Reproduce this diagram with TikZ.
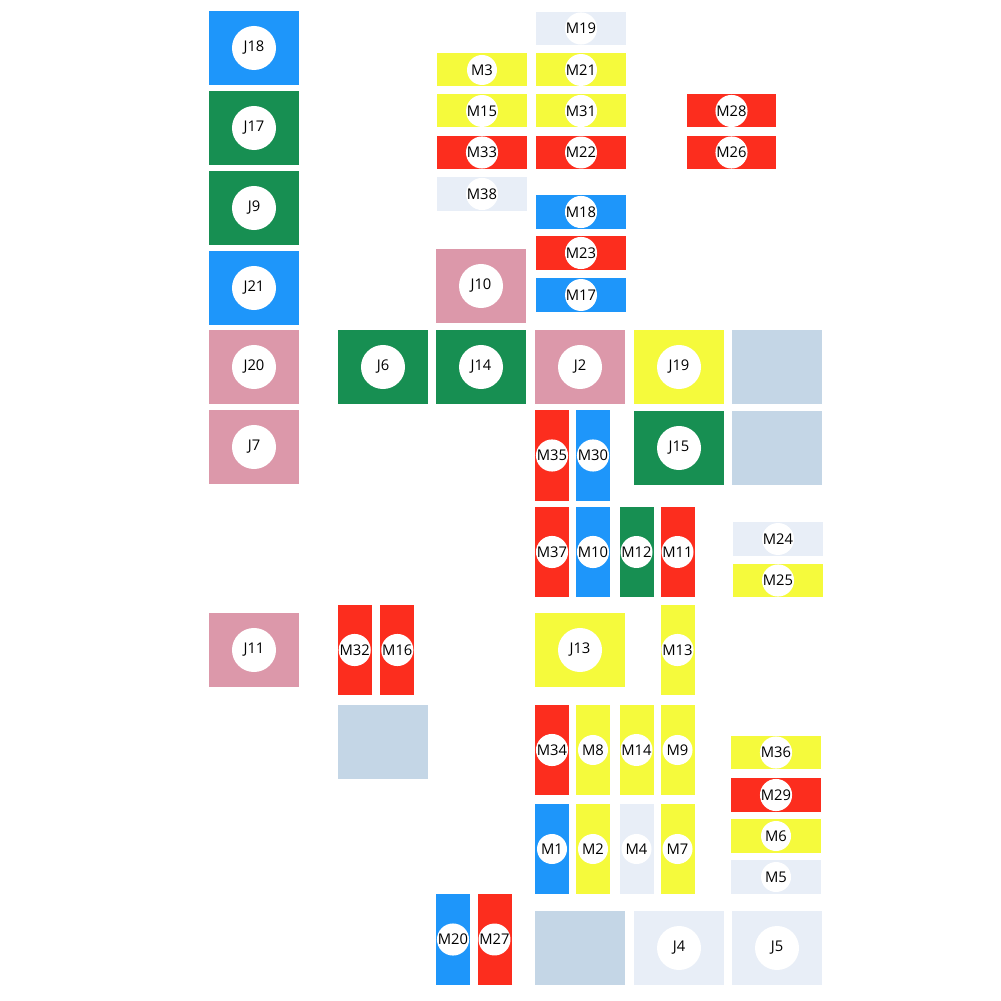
\documentclass[tikz,border=0pt]{standalone}
\usepackage{fontspec}
\setmainfont{Open Sans}

\definecolor{cblue}{RGB}{30,150,250}
\definecolor{cgreen}{RGB}{23,143,82}
\definecolor{cred}{RGB}{252,45,30}
\definecolor{cyellow}{RGB}{245,250,60}
\definecolor{cpink}{RGB}{220,152,170}
\definecolor{cgray}{RGB}{196,214,230}
\definecolor{clight}{RGB}{232,238,247}

\tikzset{
  jbox/.style={rectangle, draw=none, minimum width=0.9cm, minimum height=0.74cm, inner sep=0},
  mhbox/.style={rectangle, draw=none, minimum width=0.89cm, minimum height=0.33cm, inner sep=0},
  mvbox/.style={rectangle, draw=none, minimum width=0.34cm, minimum height=0.9cm, inner sep=0},
  jdot/.style={circle, fill=white, minimum size=0.44cm, inner sep=0, text=black,
    font=\fontsize{4.2}{5}\selectfont},
  mdot/.style={circle, fill=white, minimum size=0.30cm, inner sep=0, text=black,
    font=\fontsize{4.2}{5}\selectfont},
  jt/.style={label={[jdot]center:#1}},
  mt/.style={label={[mdot]center:#1}}
}

\begin{document}
\begin{tikzpicture}[x=0.01cm, y=-0.01cm]
  \useasboundingbox (0,0) rectangle (1001,1001);
  % left column
  \node[jbox, fill=cblue, jt=J18] (J18) at (254, 48) {};
  \node[jbox, fill=cgreen, jt=J17] (J17) at (254, 128) {};
  \node[jbox, fill=cgreen, jt=J9] (J9) at (254, 208) {};
  \node[jbox, fill=cblue, jt=J21] (J21) at (254, 288) {};
  \node[jbox, fill=cpink, jt=J20] (J20) at (254, 367) {};
  \node[jbox, fill=cpink, jt=J7] (J7) at (254, 447) {};
  \node[jbox, fill=cpink, jt=J11] (J11) at (254, 650) {};
  % big tiles
  \node[jbox, fill=cgreen, jt=J6] (J6) at (383, 367) {};
  \node[jbox, fill=cgreen, jt=J14] (J14) at (481, 367) {};
  \node[jbox, fill=cpink, jt=J10] (J10) at (481, 286) {};
  \node[jbox, fill=cpink, jt=J2] (J2) at (580, 367) {};
  \node[jbox, fill=cyellow, jt=J19] (J19) at (679, 367) {};
  \node[jbox, fill=cgray] (G1) at (777, 367) {};
  \node[jbox, fill=cgreen, jt=J15] (J15) at (679, 448) {};
  \node[jbox, fill=cgray] (G2) at (777, 448) {};
  \node[jbox, fill=cyellow, jt=J13] (J13) at (580, 650) {};
  \node[jbox, fill=cgray] (G3) at (383, 742) {};
  \node[jbox, fill=cgray] (G4) at (580, 948) {};
  \node[jbox, fill=clight, jt=J4] (J4) at (679, 948) {};
  \node[jbox, fill=clight, jt=J5] (J5) at (777, 948) {};
  % flat tiles
  \node[mhbox, fill=clight, mt=M19] (M19) at (581, 28.5) {};
  \node[mhbox, fill=cyellow, mt=M21] (M21) at (581, 70) {};
  \node[mhbox, fill=cyellow, mt=M31] (M31) at (581, 111) {};
  \node[mhbox, fill=cred, mt=M22] (M22) at (581, 152.5) {};
  \node[mhbox, fill=cblue, mt=M18] (M18) at (581, 212) {};
  \node[mhbox, fill=cred, mt=M23] (M23) at (581, 253) {};
  \node[mhbox, fill=cblue, mt=M17] (M17) at (581, 295) {};
  \node[mhbox, fill=cyellow, mt=M3] (M3) at (482, 70) {};
  \node[mhbox, fill=cyellow, mt=M15] (M15) at (482, 111) {};
  \node[mhbox, fill=cred, mt=M33] (M33) at (482, 152.5) {};
  \node[mhbox, fill=clight, mt=M38] (M38) at (482, 194) {};
  \node[mhbox, fill=cred, mt=M28] (M28) at (731.5, 111) {};
  \node[mhbox, fill=cred, mt=M26] (M26) at (731.5, 152.5) {};
  \node[mhbox, fill=clight, mt=M24] (M24) at (778, 539) {};
  \node[mhbox, fill=cyellow, mt=M25] (M25) at (778, 580.5) {};
  \node[mhbox, fill=cyellow, mt=M36] (M36) at (776, 752.5) {};
  \node[mhbox, fill=cred, mt=M29] (M29) at (776, 795) {};
  \node[mhbox, fill=cyellow, mt=M6] (M6) at (776, 836) {};
  \node[mhbox, fill=clight, mt=M5] (M5) at (776, 877) {};
  % upright tiles
  \node[mvbox, fill=cred, mt=M35] (M35) at (552, 455.5) {};
  \node[mvbox, fill=cblue, mt=M30] (M30) at (593, 455.5) {};
  \node[mvbox, fill=cred, mt=M37] (M37) at (552, 552) {};
  \node[mvbox, fill=cblue, mt=M10] (M10) at (593, 552) {};
  \node[mvbox, fill=cgreen, mt=M12] (M12) at (636.5, 552) {};
  \node[mvbox, fill=cred, mt=M11] (M11) at (677.5, 552) {};
  \node[mvbox, fill=cred, mt=M32] (M32) at (354.7, 650) {};
  \node[mvbox, fill=cred, mt=M16] (M16) at (397.3, 650) {};
  \node[mvbox, fill=cyellow, mt=M13] (M13) at (677.5, 650) {};
  \node[mvbox, fill=cred, mt=M34] (M34) at (552, 750) {};
  \node[mvbox, fill=cyellow, mt=M8] (M8) at (593, 750) {};
  \node[mvbox, fill=cyellow, mt=M14] (M14) at (636.5, 750) {};
  \node[mvbox, fill=cyellow, mt=M9] (M9) at (677.5, 750) {};
  \node[mvbox, fill=cblue, mt=M1] (M1) at (552, 849) {};
  \node[mvbox, fill=cyellow, mt=M2] (M2) at (593, 849) {};
  \node[mvbox, fill=clight, mt=M4] (M4) at (636.5, 849) {};
  \node[mvbox, fill=cyellow, mt=M7] (M7) at (677.5, 849) {};
  \node[mvbox, fill=cblue, mt=M20] (M20) at (453, 939.5) {};
  \node[mvbox, fill=cred, mt=M27] (M27) at (494.5, 939.5) {};
\end{tikzpicture}
\end{document}
